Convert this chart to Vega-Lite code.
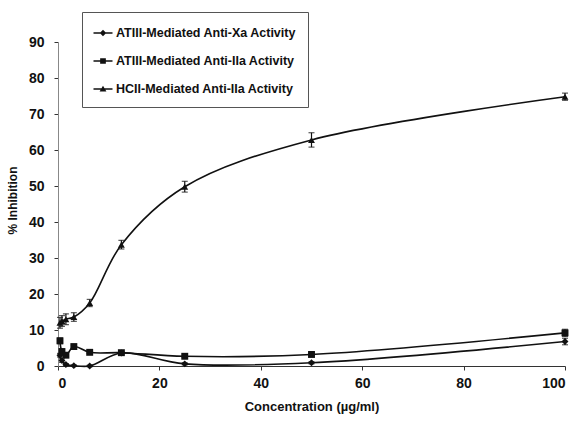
{
  "$schema": "https://vega.github.io/schema/vega-lite/v6.json",
  "width": 507,
  "height": 324,
  "autosize": "none",
  "padding": {"left": 58, "top": 42, "right": 14, "bottom": 57},
  "background": "white",
  "config": {
    "view": {"stroke": null},
    "font": "Liberation Sans",
    "axis": {
      "grid": false,
      "labelFont": "Liberation Sans",
      "labelFontSize": 14,
      "labelFontWeight": "bold",
      "labelColor": "#111",
      "labelOverlap": false,
      "titleFont": "Liberation Sans",
      "titleFontSize": 13,
      "titleFontWeight": "bold",
      "titleColor": "#111",
      "domainColor": "#333",
      "tickColor": "#333",
      "tickSize": 4
    }
  },
  "data": {
    "values": [
      {"series": "ATIII-Mediated Anti-Xa Activity", "conc": 0.39, "val": 3.0, "err": 0.5},
      {"series": "ATIII-Mediated Anti-Xa Activity", "conc": 0.78, "val": 1.5, "err": 0.5},
      {"series": "ATIII-Mediated Anti-Xa Activity", "conc": 1.56, "val": 0.4, "err": 0.3},
      {"series": "ATIII-Mediated Anti-Xa Activity", "conc": 3.125, "val": 0.1, "err": 0.2},
      {"series": "ATIII-Mediated Anti-Xa Activity", "conc": 6.25, "val": 0.0, "err": 0.2},
      {"series": "ATIII-Mediated Anti-Xa Activity", "conc": 12.5, "val": 3.6, "err": 0.3},
      {"series": "ATIII-Mediated Anti-Xa Activity", "conc": 25, "val": 0.6, "err": 0.3},
      {"series": "ATIII-Mediated Anti-Xa Activity", "conc": 50, "val": 0.9, "err": 0.3},
      {"series": "ATIII-Mediated Anti-Xa Activity", "conc": 100, "val": 6.8, "err": 0.9},
      {"series": "ATIII-Mediated Anti-IIa Activity", "conc": 0.39, "val": 7.0, "err": 0.8},
      {"series": "ATIII-Mediated Anti-IIa Activity", "conc": 0.78, "val": 4.0, "err": 0.8},
      {"series": "ATIII-Mediated Anti-IIa Activity", "conc": 1.56, "val": 3.0, "err": 0.6},
      {"series": "ATIII-Mediated Anti-IIa Activity", "conc": 3.125, "val": 5.4, "err": 0.4},
      {"series": "ATIII-Mediated Anti-IIa Activity", "conc": 6.25, "val": 3.8, "err": 0.3},
      {"series": "ATIII-Mediated Anti-IIa Activity", "conc": 12.5, "val": 3.7, "err": 0.3},
      {"series": "ATIII-Mediated Anti-IIa Activity", "conc": 25, "val": 2.7, "err": 0.3},
      {"series": "ATIII-Mediated Anti-IIa Activity", "conc": 50, "val": 3.2, "err": 0.3},
      {"series": "ATIII-Mediated Anti-IIa Activity", "conc": 100, "val": 9.2, "err": 1.0},
      {"series": "HCII-Mediated Anti-IIa Activity", "conc": 0.39, "val": 12.0, "err": 1.5},
      {"series": "HCII-Mediated Anti-IIa Activity", "conc": 0.78, "val": 12.5, "err": 1.5},
      {"series": "HCII-Mediated Anti-IIa Activity", "conc": 1.56, "val": 13.0, "err": 1.5},
      {"series": "HCII-Mediated Anti-IIa Activity", "conc": 3.125, "val": 13.6, "err": 1.2},
      {"series": "HCII-Mediated Anti-IIa Activity", "conc": 6.25, "val": 17.5, "err": 1.0},
      {"series": "HCII-Mediated Anti-IIa Activity", "conc": 12.5, "val": 33.7, "err": 1.2},
      {"series": "HCII-Mediated Anti-IIa Activity", "conc": 25, "val": 49.8, "err": 1.5},
      {"series": "HCII-Mediated Anti-IIa Activity", "conc": 50, "val": 62.8, "err": 2.0},
      {"series": "HCII-Mediated Anti-IIa Activity", "conc": 100, "val": 74.8, "err": 1.0}
    ]
  },
  "transform": [
    {"calculate": "datum.val - datum.err", "as": "lo"},
    {"calculate": "datum.val + datum.err", "as": "hi"}
  ],
  "resolve": {"scale": {"shape": "independent"}, "legend": {"shape": "independent"}},
  "layer": [
    {
      "mark": {"type": "line", "interpolate": "catmull-rom", "color": "#111", "strokeWidth": 1.6},
      "encoding": {
        "x": {"field": "conc", "type": "quantitative", "scale": {"domain": [0, 100], "nice": false},
          "axis": {"values": [0, 20, 40, 60, 80, 100], "title": "Concentration (\u00b5g/ml)", "labelPadding": 6, "titlePadding": 10}},
        "y": {"field": "val", "type": "quantitative", "scale": {"domain": [0, 90], "nice": false},
          "axis": {"values": [0, 10, 20, 30, 40, 50, 60, 70, 80, 90], "title": "% Inhibition", "labelPadding": 10, "titleFontSize": 12, "titleX": -39, "titleY": 158, "domainColor": "#888"}},
        "detail": {"field": "series"}
      }
    },
    {
      "mark": {"type": "rule", "color": "#111", "strokeWidth": 1.2},
      "encoding": {
        "x": {"field": "conc", "type": "quantitative",
          "axis": {"values": [0, 20, 40, 60, 80, 100], "title": "Concentration (\u00b5g/ml)", "labelPadding": 6, "titlePadding": 10}},
        "y": {"field": "lo", "type": "quantitative",
          "axis": {"values": [0, 10, 20, 30, 40, 50, 60, 70, 80, 90], "title": "% Inhibition", "labelPadding": 10, "titleFontSize": 12, "titleX": -39, "titleY": 158, "domainColor": "#888"}},
        "y2": {"field": "hi"}
      }
    },
    {
      "mark": {"type": "tick", "color": "#111", "size": 6, "thickness": 1.2, "orient": "horizontal"},
      "encoding": {
        "x": {"field": "conc", "type": "quantitative",
          "axis": {"values": [0, 20, 40, 60, 80, 100], "title": "Concentration (\u00b5g/ml)", "labelPadding": 6, "titlePadding": 10}},
        "y": {"field": "lo", "type": "quantitative",
          "axis": {"values": [0, 10, 20, 30, 40, 50, 60, 70, 80, 90], "title": "% Inhibition", "labelPadding": 10, "titleFontSize": 12, "titleX": -39, "titleY": 158, "domainColor": "#888"}}
      }
    },
    {
      "mark": {"type": "tick", "color": "#111", "size": 6, "thickness": 1.2, "orient": "horizontal"},
      "encoding": {
        "x": {"field": "conc", "type": "quantitative",
          "axis": {"values": [0, 20, 40, 60, 80, 100], "title": "Concentration (\u00b5g/ml)", "labelPadding": 6, "titlePadding": 10}},
        "y": {"field": "hi", "type": "quantitative",
          "axis": {"values": [0, 10, 20, 30, 40, 50, 60, 70, 80, 90], "title": "% Inhibition", "labelPadding": 10, "titleFontSize": 12, "titleX": -39, "titleY": 158, "domainColor": "#888"}}
      }
    },
    {
      "mark": {"type": "point", "filled": true, "color": "#111", "opacity": 1, "size": 48},
      "encoding": {
        "x": {"field": "conc", "type": "quantitative",
          "axis": {"values": [0, 20, 40, 60, 80, 100], "title": "Concentration (\u00b5g/ml)", "labelPadding": 6, "titlePadding": 10}},
        "y": {"field": "val", "type": "quantitative",
          "axis": {"values": [0, 10, 20, 30, 40, 50, 60, 70, 80, 90], "title": "% Inhibition", "labelPadding": 10, "titleFontSize": 12, "titleX": -39, "titleY": 158, "domainColor": "#888"}},
        "shape": {
          "field": "series", "type": "nominal",
          "scale": {
            "domain": ["ATIII-Mediated Anti-Xa Activity", "ATIII-Mediated Anti-IIa Activity", "HCII-Mediated Anti-IIa Activity"],
            "range": ["diamond", "square", "triangle-up"]
          },
          "legend": null
        }
      }
    },
    {
      "mark": {"type": "point", "filled": true, "color": "#111", "opacity": 1, "size": 0},
      "encoding": {
        "x": {"field": "conc", "type": "quantitative",
          "axis": {"values": [0, 20, 40, 60, 80, 100], "title": "Concentration (\u00b5g/ml)", "labelPadding": 6, "titlePadding": 10}},
        "y": {"field": "val", "type": "quantitative",
          "axis": {"values": [0, 10, 20, 30, 40, 50, 60, 70, 80, 90], "title": "% Inhibition", "labelPadding": 10, "titleFontSize": 12, "titleX": -39, "titleY": 158, "domainColor": "#888"}},
        "shape": {
          "field": "series", "type": "nominal",
          "scale": {
            "domain": ["ATIII-Mediated Anti-Xa Activity", "ATIII-Mediated Anti-IIa Activity", "HCII-Mediated Anti-IIa Activity"],
            "range": [
              "M-1,-0.07H1V0.07H-1ZM-0.34,0L0,-0.34L0.34,0L0,0.34Z",
              "M-1,-0.07H1V0.07H-1ZM-0.3,-0.3H0.3V0.3H-0.3Z",
              "M-1,-0.07H1V0.07H-1ZM-0.36,0.25L0,-0.34L0.36,0.25Z"
            ]
          },
          "legend": {
            "title": null,
            "orient": "none",
            "legendX": 24,
            "legendY": -30,
            "padding": 11,
            "strokeColor": "#555",
            "fillColor": "white",
            "symbolSize": 361,
            "symbolFillColor": "#111",
            "symbolStrokeColor": "#111",
            "symbolStrokeWidth": 0.6,
            "symbolOpacity": 1,
            "labelFont": "Liberation Sans",
            "labelFontSize": 12.5,
            "labelFontWeight": "bold",
            "labelColor": "#111",
            "labelOffset": 3,
            "labelLimit": 300,
            "rowPadding": 11,
            "encode": {
              "legend": {
                "update": {
                  "strokeDash": {"value": [4, 2]}
                }
              },
              "symbols": {
                "update": {
                  "size": {"value": 361},
                  "fill": {"value": "#111"},
                  "opacity": {"value": 1}
                }
              }
            }
          }
        }
      }
    }
  ]
}
